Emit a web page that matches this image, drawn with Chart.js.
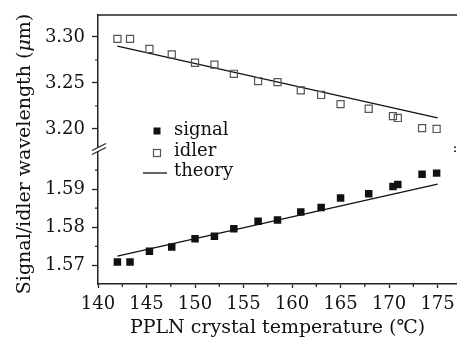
<!DOCTYPE html>
<html>
<head>
<meta charset="utf-8">
<script src="https://cdn.jsdelivr.net/npm/chart.js@4"></script>
<style>
body{margin:0;background:#fff;}
</style>
</head>
<body>
<canvas id="grafico" width="457" height="343"></canvas>
<script>
// datos
var temperaturas = [142, 143.3, 145.3, 147.6, 150, 152, 154, 156.5, 158.5, 160.9, 163, 165, 167.9, 170.4, 170.9, 173.4, 174.9];
var idler = [3.298, 3.298, 3.287, 3.281, 3.272, 3.270, 3.260, 3.252, 3.251, 3.242, 3.237, 3.227, 3.222, 3.214, 3.212, 3.201, 3.200];
var signal = [1.5709, 1.5709, 1.5737, 1.5748, 1.5770, 1.5776, 1.5796, 1.5816, 1.5819, 1.5840, 1.5852, 1.5877, 1.5888, 1.5907, 1.5912, 1.5939, 1.5942];
var teoriaT = [142, 175];
var teoriaIdler = [3.290, 3.212];
var teoriaSignal = [1.5724, 1.5913];

var ticksX = [140, 145, 150, 155, 160, 165, 170, 175];
var ticksYalto = [3.20, 3.25, 3.30];
var ticksYbajo = [1.57, 1.58, 1.59];
var menoresX = [142.5, 147.5, 152.5, 157.5, 162.5, 167.5, 172.5];
var menoresYalto = [3.225, 3.275];
var menoresYbajo = [1.575, 1.585, 1.595];

var tituloX = 'PPLN crystal temperature (\u2103)';
var tituloY = ['Signal/idler wavelength (', '\u03BC', 'm)'];
var leyenda = ['signal', 'idler', 'theory'];

function puntos(xs, ys){
  return xs.map(function(x, i){ return {x: x, y: ys[i]}; });
}

Chart.defaults.font.family = 'DejaVu Serif';
Chart.defaults.font.size = 18;
Chart.defaults.color = '#111';

var negro = '#111';

var decoracion = {
  id: 'decoracion',
  afterDraw: function(chart){
    var ctx = chart.ctx;
    var area = chart.chartArea;
    var sx = chart.scales.x, sa = chart.scales.yAlto, sb = chart.scales.yBajo;
    ctx.save();
    ctx.strokeStyle = '#222';
    ctx.lineWidth = 1.5;
    // linea de arriba
    ctx.beginPath();
    ctx.moveTo(area.left, area.top);
    ctx.lineTo(area.right, area.top);
    ctx.stroke();
    // ticks menores
    ctx.lineWidth = 1.2;
    ctx.beginPath();
    menoresX.forEach(function(v){
      var px = sx.getPixelForValue(v);
      ctx.moveTo(px, area.bottom); ctx.lineTo(px, area.bottom + 3);
    });
    menoresYalto.forEach(function(v){
      var py = sa.getPixelForValue(v);
      ctx.moveTo(area.left, py); ctx.lineTo(area.left - 3, py);
    });
    menoresYbajo.forEach(function(v){
      var py = sb.getPixelForValue(v);
      ctx.moveTo(area.left, py); ctx.lineTo(area.left - 3, py);
    });
    ctx.stroke();
    // corte del eje
    var yc = sa.bottom;
    ctx.fillStyle = '#fff';
    ctx.fillRect(area.left - 3, yc - 2, 6, 4);
    ctx.beginPath();
    ctx.moveTo(area.left - 6, yc + 1); ctx.lineTo(area.left + 8, yc - 6);
    ctx.moveTo(area.left - 6, yc + 5); ctx.lineTo(area.left + 8, yc - 2);
    ctx.stroke();
    ctx.fillStyle = '#333';
    ctx.fillRect(area.right - 3, yc - 3, 2, 1.5);
    ctx.fillRect(area.right - 3, yc + 1, 2, 1.5);
    // titulo eje y
    ctx.fillStyle = negro;
    ctx.translate(25, 154);
    ctx.rotate(-Math.PI / 2);
    ctx.textBaseline = 'middle';
    var fNormal = '19px "DejaVu Serif"';
    var fItal = 'italic 19px "DejaVu Serif"';
    ctx.font = fNormal;
    var w0 = ctx.measureText(tituloY[0]).width;
    var w2 = ctx.measureText(tituloY[2]).width;
    ctx.font = fItal;
    var w1 = ctx.measureText(tituloY[1]).width;
    var x0 = -(w0 + w1 + w2) / 2;
    ctx.font = fNormal;
    ctx.fillText(tituloY[0], x0, 0);
    ctx.font = fItal;
    ctx.fillText(tituloY[1], x0 + w0, 0);
    ctx.font = fNormal;
    ctx.fillText(tituloY[2], x0 + w0 + w1, 0);
    ctx.restore();

    // leyenda
    ctx.save();
    ctx.font = '18px "DejaVu Serif"';
    ctx.textBaseline = 'middle';
    ctx.fillStyle = negro;
    var lx = area.left + 59;
    ctx.fillRect(lx - 3.5, 127.5, 7, 7);
    ctx.fillText(leyenda[0], area.left + 76, 130);
    ctx.strokeStyle = '#555';
    ctx.lineWidth = 1.2;
    ctx.strokeRect(lx - 3.5, 149.5, 7, 7);
    ctx.fillText(leyenda[1], area.left + 76, 151);
    ctx.strokeStyle = negro;
    ctx.lineWidth = 1.3;
    ctx.beginPath();
    ctx.moveTo(area.left + 45, 173); ctx.lineTo(area.left + 69, 173);
    ctx.stroke();
    ctx.fillText(leyenda[2], area.left + 76, 171);
    ctx.restore();
  }
};

function ejeY(min, max, ticks){
  return {
    type: 'linear',
    position: 'left',
    stack: 'w',
    stackWeight: 1,
    min: min,
    max: max,
    afterBuildTicks: function(s){ s.ticks = ticks.map(function(v){ return {value: v}; }); },
    afterFit: function(s){ s.width = 98; s.paddingTop = 0; s.paddingBottom = 0; },
    ticks: { padding: 7, callback: function(v){ return v.toFixed(2); } },
    grid: { drawOnChartArea: false, drawTicks: true, tickLength: 6, color: '#222', tickWidth: 1.3 },
    border: { display: true, width: 1.5, color: '#222' }
  };
}

var config = {
  type: 'scatter',
  data: {
    datasets: [{
      label: leyenda[0],
      data: puntos(temperaturas, signal),
      yAxisID: 'yBajo',
      pointStyle: 'rect',
      pointRadius: 5.3,
      backgroundColor: negro,
      borderColor: negro,
      borderWidth: 0
    },
    {
      label: leyenda[1],
      data: puntos(temperaturas, idler),
      yAxisID: 'yAlto',
      pointStyle: 'rect',
      pointRadius: 5,
      backgroundColor: 'rgba(0,0,0,0)',
      borderColor: '#555',
      borderWidth: 1.2
    },
    {
      label: leyenda[2],
      data: puntos(teoriaT, teoriaSignal),
      yAxisID: 'yBajo',
      showLine: true,
      pointRadius: 0,
      borderColor: negro,
      borderWidth: 1.3
    },
    {
      label: leyenda[2],
      data: puntos(teoriaT, teoriaIdler),
      yAxisID: 'yAlto',
      showLine: true,
      pointRadius: 0,
      borderColor: negro,
      borderWidth: 1.3
    }]
  },
  options: {
    responsive: false,
    animation: false,
    layout: { autoPadding: false, padding: { top: 15, left: 0, right: 0, bottom: 0 } },
    plugins: { legend: { display: false }, tooltip: { enabled: false } },
    scales: {
      x: {
        type: 'linear',
        min: 140,
        max: 177,
        afterBuildTicks: function(s){ s.ticks = ticksX.map(function(v){ return {value: v}; }); },
        afterFit: function(s){ s.height = 59; s.paddingLeft = 0; s.paddingRight = 0; },
        ticks: { padding: 6, maxRotation: 0 },
        grid: { drawOnChartArea: false, drawTicks: true, tickLength: 4, color: '#222', tickWidth: 1.3 },
        border: { display: true, width: 1.5, color: '#222' },
        title: { display: true, text: tituloX, font: { size: 19 }, padding: { top: 0, bottom: 4 } }
      },
      yBajo: ejeY(1.5651, 1.6004, ticksYbajo),
      yAlto: ejeY(3.1777, 3.3239, ticksYalto)
    }
  },
  plugins: [decoracion]
};

window.miGrafico = new Chart(document.getElementById('grafico'), config);
</script>
</body>
</html>
